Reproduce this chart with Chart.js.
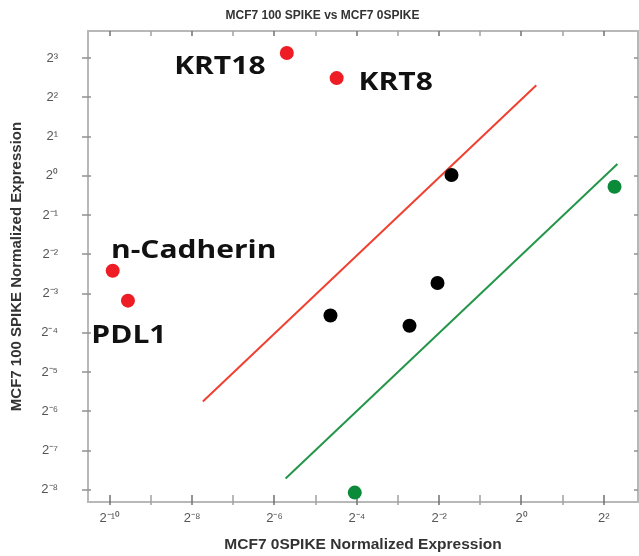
<!DOCTYPE html>
<html>
<head>
<meta charset="utf-8">
<script src="https://cdn.jsdelivr.net/npm/chart.js@4"></script>
<style>
  html, body { margin: 0; padding: 0; background: #fff; overflow: hidden; }
  #wrap { width: 645px; height: 556px; }
</style>
</head>
<body>
<div id="wrap"><canvas id="chart"></canvas></div>
<script>
// all values are log2 exponents (axis shows 2^n)
var redNames = ["KRT18", "KRT8", "n-Cadherin", "PDL1"];
var redX = [-5.70, -4.49, -9.93, -9.56];
var redY = [3.13, 2.49, -2.42, -3.18];
var blackX = [-1.70, -2.04, -4.64, -2.72];
var blackY = [0.02, -2.73, -3.56, -3.82];
var greenX = [2.26, -4.05];
var greenY = [-0.28, -8.07];
var upperLineX = [-7.74, 0.36];
var upperLineY = [-5.75, 2.31];
var lowerLineX = [-5.73, 2.33];
var lowerLineY = [-7.71, 0.30];
var xRange = [-10.53, 2.83];
var yRange = [-8.31, 3.69];

var FONT = "'Liberation Sans', Arial, sans-serif";
var SUP = { "-": "\u207B", "0": "\u2070", "1": "\u00B9", "2": "\u00B2", "3": "\u00B3",
    "4": "\u2074", "5": "\u2075", "6": "\u2076", "7": "\u2077", "8": "\u2078", "9": "\u2079" };

function pow2Label(n) {
    return "2" + String(n).split("").map(function (c) { return SUP[c]; }).join("");
}

function toPoints(xs, ys) {
    var pts = [];
    for (var i = 0; i < xs.length; i++) pts.push({ x: xs[i], y: ys[i] });
    return pts;
}

function intTicks(scale) {
    var t = [];
    for (var v = Math.ceil(scale.min); v <= Math.floor(scale.max); v++) t.push({ value: v });
    scale.ticks = t;
}

// label placement relative to each red dot, in pixels
var labelOffsets = {
    "KRT18": [-67, 14],
    "KRT8": [59, 5],
    "n-Cadherin": [81, -20],
    "PDL1": [1, 35]
};

function seg(c, x1, y1, x2, y2) {
    c.beginPath();
    c.moveTo(x1, y1);
    c.lineTo(x2, y2);
    c.stroke();
}

var frame = {
    id: "frame",
    beforeDatasetsDraw: function (chart) {
        var c = chart.ctx, a = chart.chartArea, sx = chart.scales.x, sy = chart.scales.y;
        c.save();
        c.strokeStyle = "#b8b8b8";
        c.lineWidth = 2;
        c.strokeRect(a.left, a.top, a.right - a.left, a.bottom - a.top);
        c.lineWidth = 1.5;
        sx.ticks.forEach(function (t) {
            var px = Math.round(sx.getPixelForValue(t.value));
            c.strokeStyle = t.value % 2 === 0 ? "#707070" : "#a0a0a0";
            seg(c, px, a.bottom - 7, px, a.bottom + 3);
            seg(c, px, a.top, px, a.top + 5);
        });
        sy.ticks.forEach(function (t) {
            var py = Math.round(sy.getPixelForValue(t.value));
            c.strokeStyle = "#909090";
            seg(c, a.left - 6, py, a.left + 3, py);
            seg(c, a.right - 4, py, a.right, py);
        });
        c.restore();
    },
    afterDatasetsDraw: function (chart) {
        var c = chart.ctx;
        var meta = chart.getDatasetMeta(0);
        c.save();
        c.fillStyle = "#111";
        c.font = "bold 25px 'Open Sans', sans-serif";
        c.textAlign = "center";
        c.textBaseline = "middle";
        redNames.forEach(function (name, i) {
            var p = meta.data[i];
            var off = labelOffsets[name];
            c.save();
            c.translate(p.x + off[0], p.y + off[1]);
            c.scale(1.2, 1);
            c.fillText(name, 0, 0);
            c.restore();
        });
        c.restore();
    }
};

new Chart(document.getElementById("chart"), {
    type: "scatter",
    data: {
        datasets: [
            { label: "up", data: toPoints(redX, redY), backgroundColor: "#ee1c24", borderWidth: 0, pointRadius: 7, order: 1 },
            { label: "same", data: toPoints(blackX, blackY), backgroundColor: "#000000", borderWidth: 0, pointRadius: 7, order: 1 },
            { label: "down", data: toPoints(greenX, greenY), backgroundColor: "#0b8a3a", borderWidth: 0, pointRadius: 7, order: 1 },
            { label: "upper", data: toPoints(upperLineX, upperLineY), showLine: true, borderColor: "#f0402f", borderWidth: 2, pointRadius: 0, order: 2 },
            { label: "lower", data: toPoints(lowerLineX, lowerLineY), showLine: true, borderColor: "#24964a", borderWidth: 2, pointRadius: 0, order: 2 }
        ]
    },
    options: {
        responsive: true,
        maintainAspectRatio: false,
        animation: false,
        layout: { padding: 0 },
        plugins: {
            legend: { display: false },
            tooltip: { enabled: false },
            title: {
                display: true,
                text: "MCF7 100 SPIKE vs MCF7 0SPIKE",
                color: "#333",
                font: { family: FONT, size: 12, weight: "bold" },
                padding: { top: 8, bottom: 8.6 }
            }
        },
        scales: {
            x: {
                type: "linear",
                min: xRange[0],
                max: xRange[1],
                grid: { display: false },
                border: { display: false },
                afterBuildTicks: intTicks,
                afterFit: function (s) { s.height = 54; s.paddingLeft = 0; s.paddingRight = 0; },
                ticks: {
                    autoSkip: false, maxRotation: 0, padding: 1, color: "#555",
                    font: { family: FONT, size: 13 },
                    callback: function (v) { return v % 2 === 0 ? pow2Label(v) : ""; }
                },
                title: {
                    display: true, text: "MCF7 0SPIKE Normalized Expression", color: "#333",
                    font: { family: FONT, size: 15.5, weight: "bold" },
                    padding: { top: 0, bottom: 2 }
                }
            },
            y: {
                type: "linear",
                min: yRange[0],
                max: yRange[1],
                grid: { display: false },
                border: { display: false },
                afterBuildTicks: intTicks,
                afterFit: function (s) { s.width = 88; s.paddingTop = 0; s.paddingBottom = 0; },
                ticks: {
                    autoSkip: false, padding: 22, color: "#555",
                    font: { family: FONT, size: 13 },
                    callback: function (v) { return pow2Label(v); }
                },
                title: {
                    display: true, text: "MCF7 100 SPIKE Normalized Expression", color: "#333",
                    font: { family: FONT, size: 15, weight: "bold" },
                    padding: { top: 8, bottom: 0 }
                }
            }
        }
    },
    plugins: [frame]
});
</script>
</body>
</html>
